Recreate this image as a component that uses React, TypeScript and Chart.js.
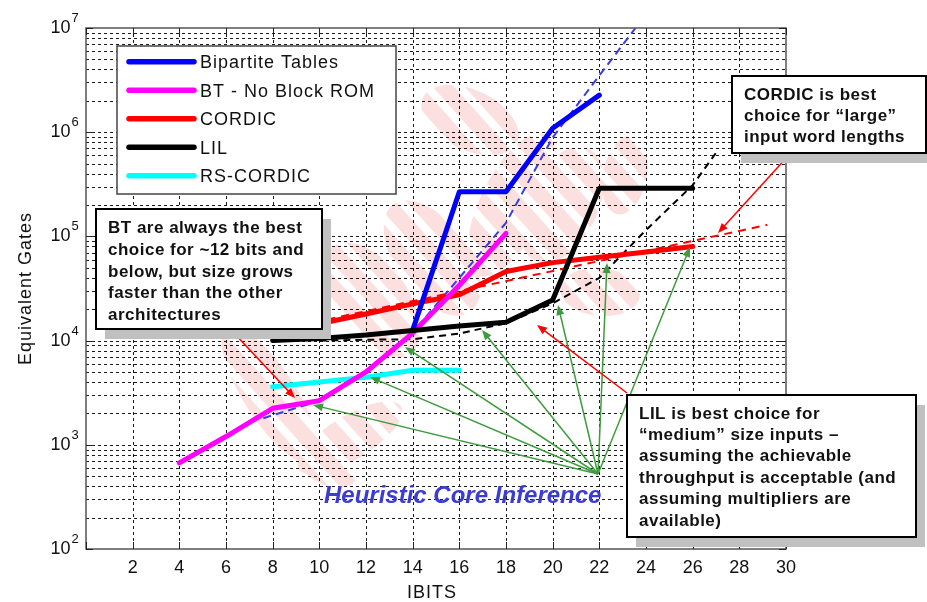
import React, { useEffect, useRef } from 'react';
import { Chart, registerables } from 'chart.js';
Chart.register(...registerables);

const FONT = "'Liberation Sans', Arial, Helvetica, sans-serif";

// ---- data ----
const seriesNames = ['Bipartite Tables', 'BT - No Block ROM', 'CORDIC', 'LIL', 'RS-CORDIC'];
const seriesColors = ['#0000ff', '#ff00ff', '#ff0000', '#000000', '#00ffff'];

const btBits = [14, 16, 18, 20, 22];
const btGates = [12600, 268000, 268000, 1090000, 2270000];

const btNoRomBits = [4, 6, 8, 10, 12, 14, 16, 18];
const btNoRomGates = [670, 1200, 2240, 2650, 5000, 11800, 34000, 107000];

const cordicBits = [8, 10, 12, 14, 16, 18, 20, 22, 24, 26];
const cordicGates = [11800, 14500, 18000, 22500, 27500, 46000, 56000, 63000, 71000, 80000];

const lilBits = [8, 10, 12, 14, 16, 18, 20, 22, 24, 26];
const lilGates = [10000, 10500, 11300, 12500, 13800, 15000, 24500, 290000, 290000, 290000];

const rsBits = [8, 10, 12, 14, 16];
const rsGates = [3600, 4000, 4450, 5200, 5200];

// dashed trend lines
const btTrendBits = [7.6, 10, 12, 14, 16, 18, 20, 22, 23.55];
const btTrendGates = [1800, 2650, 5100, 12000, 40000, 135000, 890000, 3500000, 10000000];
const cordicTrendBits = [8, 29.2];
const cordicTrendGates = [12300, 129000];
const lilTrendBits = [10, 12, 14, 16, 18, 20, 22, 24, 26, 27.1];
const lilTrendGates = [10000, 10200, 10300, 11700, 14700, 22800, 40000, 115000, 310000, 680000];

const xTickStep = 2;
const xTickLabels = ['', '2', '4', '6', '8', '10', '12', '14', '16', '18', '20', '22', '24', '26', '28', '30'];
const yExponents = [2, 3, 4, 5, 6, 7];
const yMultipliers = [1, 2, 3, 4, 5, 6, 7, 8, 9];

const xTitle = 'IBITS';
const yTitle = 'Equivalent Gates';
const btNote = ['BT are always the best', 'choice for ~12 bits and', 'below, but size grows', 'faster than the other', 'architectures'];
const cordicNote = ['CORDIC is best', 'choice for \u201clarge\u201d', 'input word lengths'];
const lilNote = ['LIL is best choice for', '\u201cmedium\u201d size inputs \u2013', 'assuming the achievable', 'throughput is acceptable (and', 'assuming multipliers are', 'available)'];
const heuristicText = 'Heuristic Core Inference';

const pts = (xs: number[], ys: number[]) => xs.map((x, i) => ({ x, y: ys[i] }));

function arrow(ctx: CanvasRenderingContext2D, x1: number, y1: number, x2: number, y2: number, color: string, width: number) {
  const a = Math.atan2(y2 - y1, x2 - x1);
  const L = 10, W = 4;
  ctx.save();
  ctx.strokeStyle = color;
  ctx.fillStyle = color;
  ctx.lineWidth = width;
  ctx.setLineDash([]);
  ctx.beginPath();
  ctx.moveTo(x1, y1);
  ctx.lineTo(x2 - L * 0.8 * Math.cos(a), y2 - L * 0.8 * Math.sin(a));
  ctx.stroke();
  ctx.beginPath();
  ctx.moveTo(x2, y2);
  ctx.lineTo(x2 - L * Math.cos(a) + W * Math.sin(a), y2 - L * Math.sin(a) - W * Math.cos(a));
  ctx.lineTo(x2 - L * Math.cos(a) - W * Math.sin(a), y2 - L * Math.sin(a) + W * Math.cos(a));
  ctx.closePath();
  ctx.fill();
  ctx.restore();
}

function noteBox(ctx: CanvasRenderingContext2D, x: number, y: number, w: number, h: number, lines: string[], tx: number, ty: number, lh: number) {
  ctx.save();
  ctx.fillStyle = '#c0c0c0';
  ctx.fillRect(x + 9, y + 10, w, h);
  ctx.fillStyle = '#ffffff';
  ctx.fillRect(x, y, w, h);
  ctx.strokeStyle = '#000';
  ctx.lineWidth = 2;
  ctx.strokeRect(x, y, w, h);
  ctx.fillStyle = '#111';
  ctx.font = `bold 17px ${FONT}`;
  (ctx as any).letterSpacing = '0.5px';
  ctx.textAlign = 'left';
  ctx.textBaseline = 'alphabetic';
  lines.forEach((t, i) => ctx.fillText(t, tx, ty + i * lh));
  ctx.restore();
}

const blobs: number[][] = [
  [270, 395, 80, 26, 1.0],
  [350, 438, 60, 22, -0.55],
  [372, 300, 66, 36, 0.95],
  [432, 258, 66, 36, 0.95],
  [470, 120, 52, 30, 0.45],
  [512, 205, 32, 78, 0.45],
  [562, 205, 36, 62, 0.45],
  [600, 292, 40, 24, 0.1],
  [625, 175, 22, 40, 0.2],
  [330, 470, 28, 16, 0.3],
];

const decorations = {
  id: 'decorations',
  beforeDatasetsDraw(chart: any) {
    const ctx: CanvasRenderingContext2D = chart.ctx;
    const { left, right, top, bottom } = chart.chartArea;
    const xs = chart.scales.x, ys = chart.scales.y;
    // watermark
    ctx.save();
    ctx.beginPath();
    ctx.rect(left, top, right - left, bottom - top);
    ctx.clip();
    ctx.beginPath();
    for (const [cx, cy, rx, ry, rot] of blobs) {
      ctx.moveTo(cx + rx * Math.cos(rot), cy + rx * Math.sin(rot));
      ctx.ellipse(cx, cy, rx, ry, rot, 0, Math.PI * 2);
    }
    ctx.clip();
    ctx.strokeStyle = 'rgba(248,180,180,0.42)';
    ctx.lineWidth = 16;
    const ang = 0.84;
    const dx = Math.cos(ang), dy = Math.sin(ang);
    const nx = -dy, ny = dx;
    for (let t = -700; t <= 700; t += 24) {
      const cx = 450 + nx * t, cy = 280 + ny * t;
      ctx.beginPath();
      ctx.moveTo(cx - dx * 700, cy - dy * 700);
      ctx.lineTo(cx + dx * 700, cy + dy * 700);
      ctx.stroke();
    }
    ctx.restore();
    // grid
    ctx.save();
    ctx.strokeStyle = '#1a1a1a';
    ctx.lineWidth = 1;
    ctx.setLineDash([3, 3]);
    for (const t of xs.ticks) {
      const px = Math.round(xs.getPixelForValue(t.value)) + 0.5;
      if (px <= left + 2 || px >= right - 2) continue;
      ctx.beginPath(); ctx.moveTo(px, top); ctx.lineTo(px, bottom); ctx.stroke();
    }
    for (const t of ys.ticks) {
      const py = Math.round(ys.getPixelForValue(t.value)) + 0.5;
      if (py <= top + 2 || py >= bottom - 2) continue;
      ctx.beginPath(); ctx.moveTo(left, py); ctx.lineTo(right, py); ctx.stroke();
    }
    ctx.restore();
  },
  afterDatasetsDraw(chart: any) {
    const ctx: CanvasRenderingContext2D = chart.ctx;
    const { left, right, top, bottom } = chart.chartArea;
    const xs = chart.scales.x, ys = chart.scales.y;
    ctx.save();
    // frame + inside ticks
    ctx.strokeStyle = '#555';
    ctx.lineWidth = 1.5;
    ctx.strokeRect(left, top, right - left, bottom - top);
    ctx.strokeStyle = '#222';
    ctx.lineWidth = 1;
    for (const t of xs.ticks) {
      const px = Math.round(xs.getPixelForValue(t.value)) + 0.5;
      ctx.beginPath(); ctx.moveTo(px, bottom); ctx.lineTo(px, bottom - 7); ctx.stroke();
      ctx.beginPath(); ctx.moveTo(px, top); ctx.lineTo(px, top + 7); ctx.stroke();
    }
    for (const e of yExponents) {
      const py = Math.round(ys.getPixelForValue(Math.pow(10, e))) + 0.5;
      ctx.beginPath(); ctx.moveTo(left, py); ctx.lineTo(left + 7, py); ctx.stroke();
      ctx.beginPath(); ctx.moveTo(right, py); ctx.lineTo(right - 7, py); ctx.stroke();
    }
    // x tick labels
    ctx.fillStyle = '#111';
    ctx.font = `18px ${FONT}`;
    ctx.textAlign = 'center';
    ctx.textBaseline = 'alphabetic';
    xs.ticks.forEach((t: any, i: number) => {
      const lbl = xTickLabels[i] ?? '';
      if (lbl) ctx.fillText(lbl, xs.getPixelForValue(t.value), 573);
    });
    // y tick labels with superscripts
    for (const e of yExponents) {
      const py = ys.getPixelForValue(Math.pow(10, e));
      ctx.font = `18px ${FONT}`;
      ctx.textAlign = 'right';
      ctx.textBaseline = 'middle';
      ctx.fillText('10', 70.5, py);
      ctx.font = `13px ${FONT}`;
      ctx.textAlign = 'left';
      ctx.textBaseline = 'alphabetic';
      ctx.fillText(String(e), 71.5, py - 6);
    }
    // axis titles
    ctx.font = `18px ${FONT}`;
    (ctx as any).letterSpacing = '1px';
    ctx.textAlign = 'center';
    ctx.textBaseline = 'alphabetic';
    ctx.fillText(xTitle, 432, 598);
    ctx.save();
    ctx.translate(30.5, (top + bottom) / 2);
    ctx.rotate(-Math.PI / 2);
    ctx.fillText(yTitle, 0, 0);
    ctx.restore();
    // legend
    ctx.fillStyle = '#fff';
    ctx.fillRect(117, 46, 279, 148);
    ctx.strokeStyle = '#444';
    ctx.lineWidth = 1.5;
    ctx.strokeRect(117, 46, 279, 148);
    seriesNames.forEach((name, i) => {
      const yc = 61.7 + i * 28.5;
      ctx.strokeStyle = seriesColors[i];
      ctx.lineWidth = 5.5;
      ctx.lineCap = 'round';
      ctx.beginPath(); ctx.moveTo(129, yc); ctx.lineTo(194, yc); ctx.stroke();
      ctx.fillStyle = '#111';
      ctx.font = `18px ${FONT}`;
      ctx.textAlign = 'left';
      ctx.fillText(name, 200, yc + 6.5);
    });
    ctx.lineCap = 'butt';
    (ctx as any).letterSpacing = '0px';
    // arrows
    const green = '#3f9b3f';
    const gx = 598, gy = 474;
    const greenTips = [[313, 405], [370, 377], [405, 347], [482, 330], [558, 305], [607, 263], [690, 247]];
    for (const [tx, ty] of greenTips) arrow(ctx, gx, gy, tx, ty, green, 1.5);
    arrow(ctx, 232, 331, 295, 398, '#ff0000', 1.5);
    arrow(ctx, 789, 155, 718, 233, '#ff0000', 1.5);
    arrow(ctx, 627, 393, 537, 325, '#ff0000', 1.5);
    // note boxes
    noteBox(ctx, 96, 209, 226, 120, btNote, 108, 233.3, 21.7);
    noteBox(ctx, 732, 76, 194, 77, cordicNote, 744, 99.5, 21.3);
    noteBox(ctx, 627, 395, 289, 142, lilNote, 639, 418.5, 21.4);
    // heuristic label
    ctx.font = `italic bold 24px ${FONT}`;
    ctx.fillStyle = '#3b3bd6';
    ctx.textAlign = 'left';
    ctx.textBaseline = 'alphabetic';
    ctx.fillText(heuristicText, 324, 503.3);
    ctx.restore();
  },
};

export default function App() {
  const ref = useRef<HTMLCanvasElement>(null);
  useEffect(() => {
    if (!ref.current) return;
    const yTicks: number[] = [];
    for (const e of yExponents.slice(0, -1)) for (const m of yMultipliers) yTicks.push(m * Math.pow(10, e));
    yTicks.push(Math.pow(10, yExponents[yExponents.length - 1]));
    const line = (label: string, data: any, color: string, width: number, order: number, dash?: number[]) => ({
      label, data, borderColor: color, backgroundColor: color, borderWidth: width, order,
      borderDash: dash || [], pointRadius: 0, fill: false, tension: 0,
      borderJoinStyle: 'round', borderCapStyle: dash ? 'butt' : 'round',
    });
    const chart = new Chart(ref.current, {
      type: 'line',
      data: {
        datasets: [
          line(seriesNames[0], pts(btBits, btGates), seriesColors[0], 5, 2),
          line(seriesNames[1], pts(btNoRomBits, btNoRomGates), seriesColors[1], 5, 3),
          line(seriesNames[2], pts(cordicBits, cordicGates), seriesColors[2], 5, 5),
          line(seriesNames[3], pts(lilBits, lilGates), seriesColors[3], 5, 1),
          line(seriesNames[4], pts(rsBits, rsGates), seriesColors[4], 5, 4),
          line('Bipartite Tables trend', pts(btTrendBits, btTrendGates), '#3c3ce0', 2, 8, [8, 5]),
          line('CORDIC trend', pts(cordicTrendBits, cordicTrendGates), '#ff0000', 2, 7, [8, 6]),
          line('LIL trend', pts(lilTrendBits, lilTrendGates), '#000000', 2, 6, [7, 5]),
        ] as any,
      },
      options: {
        animation: false,
        responsive: true,
        maintainAspectRatio: false,
        layout: { padding: { left: 0, right: 141, top: 28, bottom: 0 } },
        plugins: { legend: { display: false }, tooltip: { enabled: false } },
        scales: {
          x: {
            type: 'linear', min: 0, max: 30,
            grid: { display: false }, border: { display: false },
            ticks: { stepSize: xTickStep, autoSkip: false, display: false },
            afterFit: (s: any) => { s.height = 53; },
          },
          y: {
            type: 'logarithmic', min: 100, max: 1e7,
            grid: { display: false }, border: { display: false },
            ticks: { display: false },
            afterBuildTicks: (s: any) => { s.ticks = yTicks.map((v) => ({ value: v })); },
            afterFit: (s: any) => { s.width = 86; },
          },
        },
      } as any,
      plugins: [decorations],
    });
    return () => chart.destroy();
  }, []);
  return (
    <div style={{ position: 'fixed', left: 0, top: 0, width: 927, height: 602, background: '#fff' }}>
      <canvas ref={ref} />
    </div>
  );
}
